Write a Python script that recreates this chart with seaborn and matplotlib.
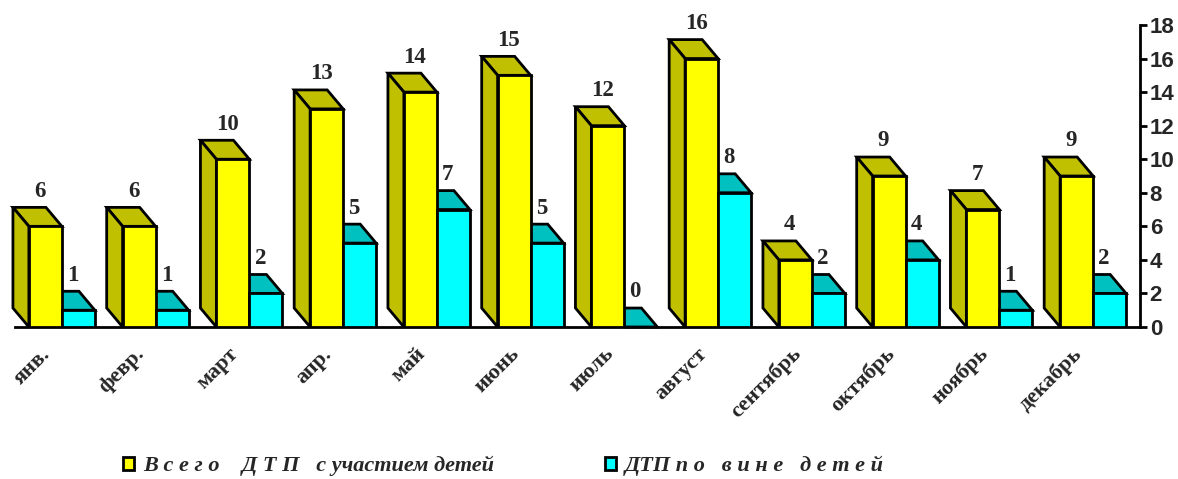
import matplotlib
matplotlib.use("Agg")
import matplotlib.pyplot as plt
from matplotlib.patches import Polygon, Rectangle
import pandas as pd
import seaborn as sns

months = ["янв.", "февр.", "март", "апр.", "май", "июнь", "июль", "август",
          "сентябрь", "октябрь", "ноябрь", "декабрь"]
total = [6, 6, 10, 13, 14, 15, 12, 16, 4, 9, 7, 9]
by_kids = [1, 1, 2, 5, 7, 5, 0, 8, 2, 4, 1, 2]
series = ["В с е г о    Д Т П   с участием детей", "ДТП п о   в и н е   д е т е й"]
y_ticks = [0, 2, 4, 6, 8, 10, 12, 14, 16, 18]

front_colors = ["#ffff00", "#00ffff"]
depth_colors = ["#c0c000", "#00c0c0"]
# fake 3d depth of the boxes (data units)
DX, DY = -0.17, 1.13

sns.set_theme(style="white")
plt.rcParams["font.family"] = ["Liberation Serif", "DejaVu Serif"]

df = pd.DataFrame({
    "month": months * 2,
    "value": total + by_kids,
    "series": [series[0]] * len(months) + [series[1]] * len(months),
})

fig = plt.figure(figsize=(11.78, 4.79), dpi=100)
ax = fig.add_axes([15 / 1178, 152 / 479, 1125 / 1178, 302 / 479])

sns.barplot(data=df, x="month", y="value", hue="series", palette=front_colors,
            saturation=1, width=0.704, edgecolor="black", linewidth=2,
            legend=False, ax=ax, zorder=3)

for bar in list(ax.patches):
    k = 0 if bar.get_facecolor()[0] > 0.5 else 1
    x0, w, h = bar.get_x(), bar.get_width(), bar.get_height()
    top = [(x0, h), (x0 + w, h), (x0 + w + DX, h + DY), (x0 + DX, h + DY)]
    ax.add_patch(Polygon(top, closed=True, fc=depth_colors[k], ec="black",
                         lw=2, zorder=2, clip_on=False))
    if k == 0:
        side = [(x0, 0), (x0, h), (x0 + DX, h + DY), (x0 + DX, DY)]
        ax.add_patch(Polygon(side, closed=True, fc=depth_colors[k], ec="black",
                             lw=2, zorder=2, clip_on=False))
    ax.annotate(str(int(h)), xy=(x0 + w / 2 + DX * 0.35, h + DY), xytext=(0, 4),
                textcoords="offset points", ha="center", va="bottom",
                fontsize=16.5, fontweight="bold", zorder=5, annotation_clip=False)

ax.set_xlim(-0.5, len(months) - 0.5)
ax.set_ylim(0, 18)
ax.set_xlabel("")
ax.set_ylabel("")
ax.set_xticks([i - 0.5 for i in range(len(months) + 1)], labels=[])
for i, m in enumerate(months):
    ax.annotate(m, xy=(i, 0), xycoords=("data", "axes fraction"), xytext=(-14, -24),
                textcoords="offset pixels", rotation=45, rotation_mode="anchor",
                ha="right", va="center", fontsize=16, fontweight="bold")

ax.yaxis.tick_right()
ax.set_yticks(y_ticks)
ax.tick_params(axis="both", direction="out", length=5, width=2, color="black")
ax.tick_params(axis="y", labelsize=16, pad=2)
for t in ax.get_yticklabels():
    t.set_fontfamily("Liberation Sans")
    t.set_fontweight("bold")
for s in ["left", "top"]:
    ax.spines[s].set_visible(False)
for s in ["right", "bottom"]:
    ax.spines[s].set_color("black")
    ax.spines[s].set_linewidth(2)

handles = [Rectangle((0, 0), 1, 1, fc=c, ec="black", lw=2) for c in front_colors]
fig.legend(handles, series, loc="center left", bbox_to_anchor=(103 / 1178, 1 - 466 / 479),
           ncol=2, frameon=False, handlelength=0.5, handleheight=0.5,
           handletextpad=0.4, columnspacing=5.0,
           prop=dict(family="Liberation Serif", weight="bold", style="italic", size=16))

fig.savefig("out.png", dpi=100)
